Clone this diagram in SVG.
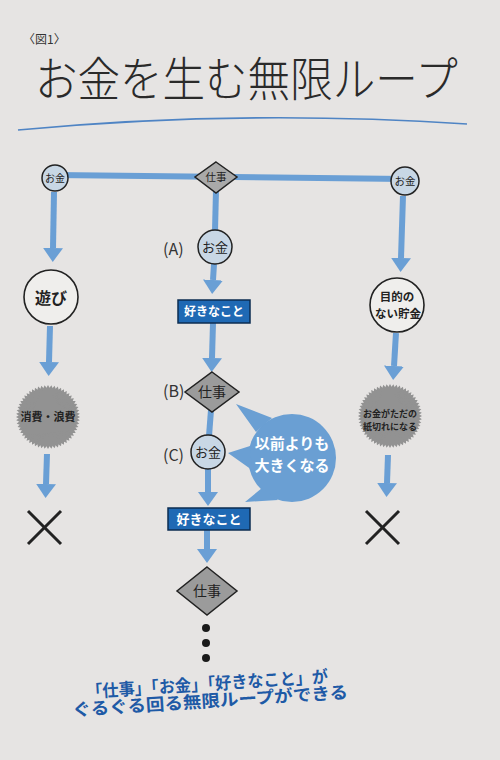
<svg xmlns="http://www.w3.org/2000/svg" xmlns:xlink="http://www.w3.org/1999/xlink" width="500" height="760" viewBox="0 0 500 760">
<style>
text{font-family:"Noto Sans CJK JP","Noto Sans",sans-serif;}
.conn{stroke:#6a9fd5;stroke-width:6;fill:none;}
.arr{marker-end:url(#ah);}
.coin{fill:#c8d7e5;stroke:#222;stroke-width:1.5;}
.node{fill:#efeeec;stroke:#222;stroke-width:1.6;}
.dia{fill:#9b9b9b;stroke:#222;stroke-width:1.5;}
.box{fill:#1f69b4;stroke:#0c2c52;stroke-width:1.5;}
.burst{fill:#929292;}
.lbl{fill:#333;font-size:16px;}
.dark{fill:#222;}
.w{fill:#fff;font-weight:bold;}
.x{stroke:#222;stroke-width:3;}
</style>
<defs>
<marker id="ah" markerUnits="userSpaceOnUse" viewBox="0 0 14 20" refX="0" refY="10" markerWidth="14" markerHeight="20" orient="auto">
<path d="M0,0 L14,10 L0,20 z" fill="#6a9fd5"/>
</marker>
<polygon id="tri" points="0,-32 27.71,16 -27.71,16"/>
<g id="burstShape">
<use xlink:href="#tri"/>
<use xlink:href="#tri" transform="rotate(6)"/>
<use xlink:href="#tri" transform="rotate(12)"/>
<use xlink:href="#tri" transform="rotate(18)"/>
<use xlink:href="#tri" transform="rotate(24)"/>
<use xlink:href="#tri" transform="rotate(30)"/>
<use xlink:href="#tri" transform="rotate(36)"/>
<use xlink:href="#tri" transform="rotate(42)"/>
<use xlink:href="#tri" transform="rotate(48)"/>
<use xlink:href="#tri" transform="rotate(54)"/>
<use xlink:href="#tri" transform="rotate(60)"/>
<use xlink:href="#tri" transform="rotate(66)"/>
<use xlink:href="#tri" transform="rotate(72)"/>
<use xlink:href="#tri" transform="rotate(78)"/>
<use xlink:href="#tri" transform="rotate(84)"/>
<use xlink:href="#tri" transform="rotate(90)"/>
<use xlink:href="#tri" transform="rotate(96)"/>
<use xlink:href="#tri" transform="rotate(102)"/>
<use xlink:href="#tri" transform="rotate(108)"/>
<use xlink:href="#tri" transform="rotate(114)"/>
</g>
</defs>
<rect width="500" height="760" fill="#e6e4e3"/>

<g id="title">
<text x="23" y="44" font-size="12" fill="#333">〈図1〉</text>
<text transform="translate(35,96) scale(0.905,1)" x="0" y="0" font-size="47" font-weight="300" fill="#2a2a2a">お金を生む無限ループ</text>
<path d="M18,130 Q240,109 467,124" stroke="#4f84c4" stroke-width="1.6" fill="none"/>
</g>

<g id="connectors">
<line class="conn" x1="55" y1="175" x2="405" y2="179"/>
<line class="conn arr" x1="54" y1="192" x2="53" y2="248"/>
<line class="conn arr" x1="50" y1="326" x2="49" y2="362"/>
<line class="conn arr" x1="47" y1="454" x2="46" y2="484"/>
<line class="conn arr" x1="403" y1="196" x2="401" y2="258"/>
<line class="conn arr" x1="396" y1="333" x2="394" y2="366"/>
<line class="conn arr" x1="388" y1="455" x2="387" y2="483"/>
<line class="conn" x1="216" y1="190" x2="215" y2="231"/>
<line class="conn arr" x1="214" y1="264" x2="213" y2="280"/>
<line class="conn arr" x1="213" y1="323" x2="212" y2="358"/>
<line class="conn" x1="211" y1="410" x2="209" y2="436"/>
<line class="conn arr" x1="208" y1="469" x2="208" y2="492"/>
<line class="conn arr" x1="207" y1="530" x2="207" y2="549"/>
</g>

<g id="bubble">
<circle cx="292" cy="458" r="44" fill="#6a9fd3"/>
<path d="M256,432 L236,404 L272,418 Z M250,446 L228,453 L252,470 Z M262,488 L245,502 L278,500 Z" fill="#6a9fd3"/>
<text x="292" y="449" font-size="15" text-anchor="middle" class="w">以前よりも</text>
<text x="292" y="471" font-size="15" text-anchor="middle" class="w">大きくなる</text>
</g>

<g id="coin-left">
<circle class="coin" cx="55" cy="178" r="13"/>
<text x="55" y="182" font-size="10" text-anchor="middle" class="dark">お金</text>
</g>
<g id="work-top">
<polygon class="dia" points="216,162 237,177 216,193 195,177" style="fill:#a9a9a9"/>
<text x="216" y="181" font-size="10.5" text-anchor="middle" class="dark">仕事</text>
</g>
<g id="coin-right">
<circle class="coin" cx="405" cy="181" r="14"/>
<text x="405" y="185" font-size="10.5" text-anchor="middle" class="dark">お金</text>
</g>

<g id="play">
<circle class="node" cx="51" cy="297" r="27"/>
<text x="51" y="304" font-size="16" font-weight="bold" text-anchor="middle" class="dark">遊び</text>
</g>
<g id="waste">
<use xlink:href="#burstShape" class="burst" transform="translate(48,417)"/>
<text x="48" y="421" font-size="11" font-weight="bold" text-anchor="middle" class="dark">消費・浪費</text>
</g>
<g id="x-left">
<line class="x" x1="28" y1="511" x2="61" y2="544"/>
<line class="x" x1="61" y1="511" x2="28" y2="544"/>
</g>

<g id="savings">
<circle class="node" cx="397" cy="305" r="27"/>
<text x="397" y="301" font-size="11.5" font-weight="bold" text-anchor="middle" class="dark">目的の</text>
<text x="398" y="318" font-size="11.5" font-weight="bold" text-anchor="middle" class="dark">ない貯金</text>
</g>
<g id="paper">
<use xlink:href="#burstShape" class="burst" transform="translate(390,416)"/>
<text x="390" y="417" font-size="9" font-weight="bold" text-anchor="middle" class="dark">お金がただの</text>
<text x="390" y="430" font-size="9" font-weight="bold" text-anchor="middle" class="dark">紙切れになる</text>
</g>
<g id="x-right">
<line class="x" x1="366" y1="511" x2="399" y2="544"/>
<line class="x" x1="399" y1="511" x2="366" y2="544"/>
</g>

<g id="coin-a">
<text x="163" y="255" class="lbl">(A)</text>
<circle class="coin" cx="215" cy="247" r="17"/>
<text x="215" y="252" font-size="13" text-anchor="middle" class="dark">お金</text>
</g>
<g id="like-1">
<rect class="box" x="178" y="300" width="72" height="23"/>
<text x="214" y="316" font-size="12" text-anchor="middle" class="w">好きなこと</text>
</g>
<g id="work-b">
<text x="163" y="397" class="lbl">(B)</text>
<polygon class="dia" points="212,372 239,392 212,412 185,392"/>
<text x="212" y="397" font-size="14" text-anchor="middle" class="dark">仕事</text>
</g>
<g id="coin-c">
<text x="163" y="461" class="lbl">(C)</text>
<circle class="coin" cx="208" cy="452" r="17"/>
<text x="208" y="457" font-size="13" text-anchor="middle" class="dark">お金</text>
</g>
<g id="like-2">
<rect class="box" x="168" y="508" width="82" height="22"/>
<text x="209" y="524" font-size="13" text-anchor="middle" class="w">好きなこと</text>
</g>
<g id="work-bottom">
<polygon class="dia" points="207,567 237,591 207,615 177,591"/>
<text x="207" y="596" font-size="14" text-anchor="middle" class="dark">仕事</text>
</g>
<g id="dots" fill="#1a1a1a">
<circle cx="206" cy="628" r="4"/>
<circle cx="206" cy="643" r="4"/>
<circle cx="206" cy="658" r="4"/>
</g>

<g id="caption" transform="rotate(-3.7 210 698)" fill="#1e5aa6" font-weight="bold" font-size="17">
<text x="208" y="690" text-anchor="middle" textLength="242" lengthAdjust="spacingAndGlyphs">「仕事」「お金」「好きなこと」が</text>
<text x="210" y="707" text-anchor="middle" textLength="276" lengthAdjust="spacingAndGlyphs">ぐるぐる回る無限ループができる</text>
</g>
</svg>
